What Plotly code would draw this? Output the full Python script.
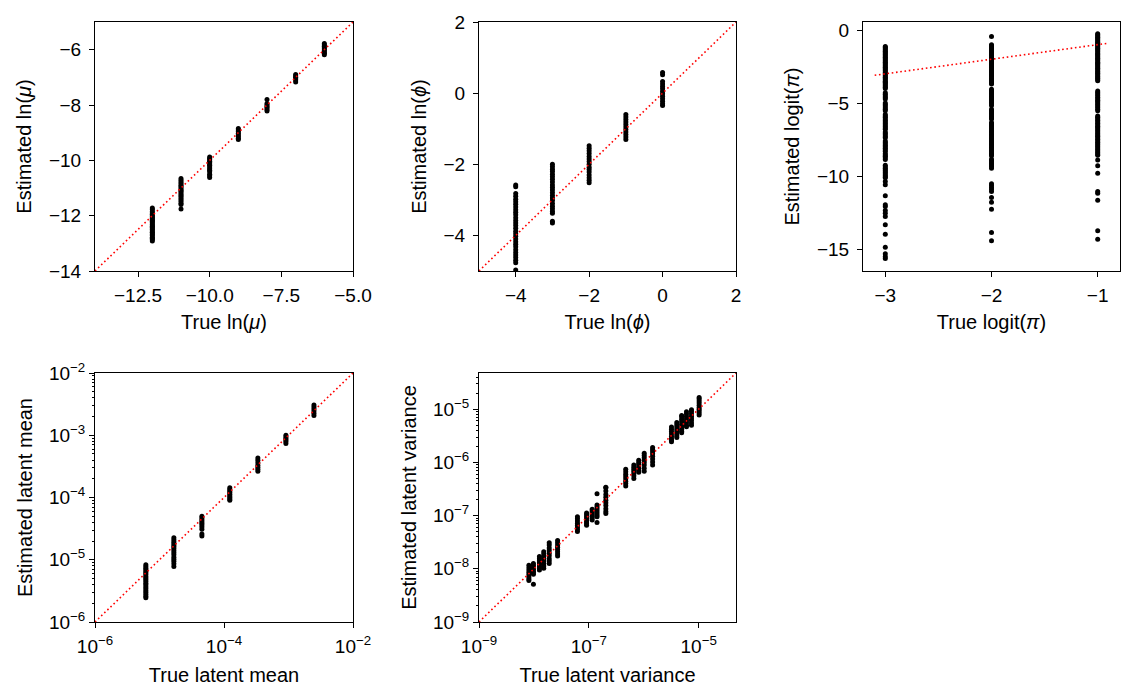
import plotly.graph_objects as go

# ---------------- data ----------------
# Panel 1: ln(mu)
p1_true = [-12, -11, -10, -9, -8, -7, -6]
p1_est = [
    [-11.72, -11.78, -11.85, -11.9, -11.95, -12.0, -12.04, -12.08, -12.12, -12.17, -12.2, -12.25, -12.3,
     -12.34, -12.38, -12.42, -12.47, -12.5, -12.55, -12.6, -12.63, -12.68, -12.72, -12.78, -12.82, -12.86, -12.92],
    [-10.66, -10.72, -10.78, -10.84, -10.9, -10.95, -11.0, -11.05, -11.1, -11.14, -11.2, -11.25, -11.3,
     -11.36, -11.42, -11.48, -11.55, -11.6, -11.76],
    [-9.88, -9.93, -9.98, -10.03, -10.08, -10.13, -10.18, -10.24, -10.3, -10.36, -10.41, -10.5, -10.56, -10.62],
    [-8.85, -8.9, -8.96, -9.02, -9.08, -9.14, -9.2, -9.25],
    [-7.8, -7.95, -8.0, -8.05, -8.1, -8.16, -8.22],
    [-6.9, -6.95, -7.0, -7.05, -7.1, -7.17],
    [-5.78, -5.83, -5.88, -5.93, -5.98, -6.03, -6.08, -6.13, -6.18],
]

# Panel 2: ln(phi)
p2_true = [-4, -3, -2, -1, 0]
p2_est = [
    [-2.58, -2.63, -2.82, -2.9, -2.98, -3.05, -3.12, -3.2, -3.28, -3.35, -3.42, -3.5, -3.58, -3.65, -3.72,
     -3.8, -3.88, -3.95, -4.02, -4.1, -4.18, -4.25, -4.32, -4.4, -4.48, -4.55, -4.62, -4.7, -4.77, -4.97],
    [-2.0, -2.07, -2.14, -2.2, -2.28, -2.35, -2.42, -2.5, -2.58, -2.65, -2.72, -2.8, -2.88, -2.95, -3.02,
     -3.1, -3.18, -3.25, -3.32, -3.38, -3.6, -3.65],
    [-1.48, -1.55, -1.62, -1.7, -1.78, -1.85, -1.92, -2.0, -2.08, -2.15, -2.22, -2.3, -2.38, -2.45, -2.52],
    [-0.6, -0.67, -0.74, -0.81, -0.88, -0.95, -1.02, -1.09, -1.16, -1.23, -1.3],
    [0.58, 0.52, 0.33, 0.26, 0.19, 0.12, 0.05, -0.02, -0.09, -0.16, -0.23, -0.3, -0.35],
]

# Panel 3: logit(pi)
p3_true = [-3, -2, -1]
p3_est = [
    [-1.12, -1.2, -1.28, -1.36, -1.45, -1.53, -1.62, -1.7, -1.78, -1.87, -1.95, -2.04, -2.12, -2.2, -2.3,
     -2.38, -2.46, -2.55, -2.64, -2.72, -2.8, -2.9, -2.98, -3.06, -3.15, -3.24, -3.32, -3.4, -3.5, -3.58,
     -3.66, -3.75, -3.84, -3.92, -4.0, -4.3, -4.4, -4.52, -4.62, -4.72, -5.0, -5.1, -5.2, -5.32, -5.42,
     -5.52, -5.78, -5.88, -5.98, -6.1, -6.2, -6.3, -6.4, -6.5, -6.6, -6.7, -6.8, -6.98, -7.08, -7.18, -7.3,
     -7.38, -7.6, -7.7, -7.8, -7.9, -8.0, -8.1, -8.2, -8.3, -8.46, -8.55, -8.65, -8.75, -8.86, -9.26, -9.36,
     -9.46, -9.56, -9.66, -9.76, -9.86, -9.96, -10.06, -10.12, -10.37, -10.6, -11.35, -11.97, -12.08,
     -12.36, -12.54, -12.77, -13.34, -13.98, -14.87, -15.32, -15.5, -15.64],
    [-0.45, -1.0, -1.08, -1.16, -1.25, -1.33, -1.42, -1.5, -1.58, -1.67, -1.75, -1.84, -1.92, -2.0, -2.1,
     -2.18, -2.26, -2.35, -2.44, -2.52, -2.6, -2.7, -2.78, -2.86, -2.95, -3.04, -3.12, -3.2, -3.3, -3.38,
     -3.46, -3.55, -3.62, -3.7, -4.06, -4.15, -4.25, -4.35, -4.45, -4.55, -4.65, -4.75, -4.85, -4.95,
     -5.05, -5.17, -5.42, -5.52, -5.62, -5.72, -5.82, -5.92, -6.02, -6.1, -6.33, -6.43, -6.53, -6.63,
     -6.73, -6.83, -6.93, -7.03, -7.13, -7.23, -7.33, -7.43, -7.53, -7.63, -7.73, -7.83, -7.93, -8.03,
     -8.13, -8.23, -8.33, -8.43, -8.53, -8.6, -8.84, -8.94, -9.04, -9.14, -9.24, -9.34, -9.46, -10.53,
     -10.65, -10.78, -10.9, -11.05, -11.47, -11.8, -12.27, -13.86, -14.43],
    [-0.25, -0.33, -0.41, -0.5, -0.58, -0.66, -0.75, -0.83, -0.92, -1.0, -1.08, -1.17, -1.25, -1.34,
     -1.42, -1.5, -1.6, -1.68, -1.76, -1.85, -1.94, -2.02, -2.1, -2.2, -2.28, -2.36, -2.45, -2.53, -2.62,
     -2.7, -2.8, -2.88, -2.96, -3.05, -3.14, -3.22, -3.3, -3.4, -3.48, -4.18, -4.28, -4.38, -4.48, -4.6,
     -4.7, -4.8, -4.9, -5.0, -5.1, -5.2, -5.3, -5.42, -5.52, -5.88, -5.98, -6.08, -6.18, -6.28, -6.38,
     -6.48, -6.58, -6.68, -6.78, -6.88, -6.98, -7.08, -7.18, -7.28, -7.38, -7.48, -7.58, -7.68, -7.78,
     -7.88, -7.98, -8.08, -8.18, -8.28, -8.38, -8.48, -8.58, -8.9, -9.3, -9.8, -11.06, -11.17, -11.65,
     -13.75, -14.32],
]

# Panel 4: latent mean
p4_true = [6.14e-6, 1.67e-5, 4.54e-5, 1.23e-4, 3.35e-4, 9.12e-4, 2.48e-3]
p4_est = [
    [8.3e-6, 7.8e-6, 7.3e-6, 6.9e-6, 6.5e-6, 6.1e-6, 5.8e-6, 5.4e-6, 5.1e-6, 4.8e-6, 4.5e-6, 4.2e-6,
     3.95e-6, 3.7e-6, 3.45e-6, 3.2e-6, 3.0e-6, 2.8e-6, 2.6e-6, 2.45e-6],
    [2.25e-5, 2.1e-5, 1.95e-5, 1.82e-5, 1.7e-5, 1.6e-5, 1.5e-5, 1.4e-5, 1.3e-5, 1.2e-5, 1.1e-5, 1.02e-5,
     9.5e-6, 8.6e-6, 7.8e-6],
    [5.0e-5, 4.7e-5, 4.4e-5, 4.1e-5, 3.85e-5, 3.6e-5, 3.35e-5, 3.1e-5, 2.6e-5, 2.4e-5],
    [1.43e-4, 1.35e-4, 1.27e-4, 1.2e-4, 1.13e-4, 1.06e-4, 1.0e-4, 9.5e-5, 9.0e-5],
    [4.3e-4, 3.95e-4, 3.6e-4, 3.3e-4, 3.05e-4, 2.85e-4, 2.65e-4],
    [1.0e-3, 9.4e-4, 8.9e-4, 8.4e-4, 7.9e-4, 7.4e-4],
    [3.05e-3, 2.85e-3, 2.65e-3, 2.45e-3, 2.25e-3, 2.07e-3],
]

# Panel 5: latent variance
p5_true = [8.1e-9, 9.8e-9, 1.26e-8, 1.51e-8, 1.9e-8, 2.7e-8, 6.2e-8, 9.1e-8, 1.15e-7, 1.41e-7, 2.04e-7,
           4.7e-7, 6.6e-7, 8.1e-7, 1.02e-6, 1.45e-6, 3.2e-6, 4.0e-6, 4.9e-6, 6.0e-6, 7.4e-6, 1.02e-5]
p5_est = [
    [1.17e-8, 1.05e-8, 9.5e-9, 8.6e-9, 7.8e-9, 7.0e-9, 6.4e-9, 6.0e-9],
    [1.26e-8, 1.15e-8, 1.06e-8, 9.8e-9, 9.0e-9, 8.4e-9, 7.9e-9, 5.1e-9],
    [1.7e-8, 1.55e-8, 1.42e-8, 1.3e-8, 1.2e-8, 1.1e-8, 1.02e-8, 9.5e-9],
    [2.1e-8, 1.9e-8, 1.7e-8, 1.55e-8, 1.4e-8, 1.26e-8, 1.13e-8, 1.02e-8],
    [3.1e-8, 2.8e-8, 2.45e-8, 2.2e-8, 1.95e-8, 1.75e-8, 1.55e-8, 1.4e-8, 1.26e-8],
    [3.4e-8, 3.1e-8, 2.8e-8, 2.55e-8, 2.3e-8, 2.1e-8, 1.9e-8, 1.74e-8],
    [9.5e-8, 8.7e-8, 7.9e-8, 7.2e-8, 6.6e-8, 6.0e-8, 5.5e-8, 5.0e-8],
    [1.12e-7, 1.04e-7, 9.6e-8, 8.9e-8, 8.2e-8, 7.6e-8, 7.0e-8, 6.6e-8],
    [1.32e-7, 1.22e-7, 1.13e-7, 1.05e-7, 9.7e-8, 9.0e-8, 8.3e-8],
    [1.58e-7, 1.45e-7, 1.33e-7, 1.22e-7, 1.12e-7, 1.03e-7, 9.5e-8, 2.57e-7, 7.4e-8],
    [3.4e-7, 3.35e-7, 2.9e-7, 2.5e-7, 2.2e-7, 1.95e-7, 1.75e-7, 1.55e-7, 1.35e-7, 1.2e-7, 1.1e-7],
    [7.4e-7, 6.7e-7, 6.0e-7, 5.4e-7, 4.9e-7, 4.4e-7, 4.0e-7, 3.6e-7],
    [8.9e-7, 8.1e-7, 7.4e-7, 6.8e-7, 6.2e-7, 5.6e-7, 5.0e-7],
    [1.1e-6, 1.0e-6, 9.2e-7, 8.4e-7, 7.7e-7, 7.1e-7, 6.5e-7],
    [1.48e-6, 1.35e-6, 1.22e-6, 1.1e-6, 9.9e-7, 8.9e-7, 7.8e-7, 6.8e-7],
    [1.9e-6, 1.75e-6, 1.6e-6, 1.45e-6, 1.3e-6, 1.16e-6, 1.02e-6, 8.9e-7],
    [4.6e-6, 4.2e-6, 3.8e-6, 3.45e-6, 3.1e-6, 2.8e-6, 2.6e-6, 2.45e-6],
    [5.6e-6, 5.1e-6, 4.6e-6, 4.2e-6, 3.8e-6, 3.45e-6, 3.15e-6, 2.95e-6],
    [7.6e-6, 7.2e-6, 6.5e-6, 5.8e-6, 5.2e-6, 4.7e-6, 4.2e-6, 3.85e-6, 3.6e-6],
    [8.9e-6, 8.1e-6, 7.3e-6, 6.6e-6, 6.0e-6, 5.5e-6, 5.0e-6, 4.7e-6],
    [9.8e-6, 9.0e-6, 8.2e-6, 7.4e-6, 6.7e-6, 6.1e-6, 5.5e-6, 5.0e-6],
    [1.66e-5, 1.55e-5, 1.42e-5, 1.3e-5, 1.18e-5, 1.08e-5, 1.0e-5, 9.2e-6, 8.5e-6, 7.8e-6],
]

# identity-line end points per panel
p1_line = [-14, -5]
p2_line = [-5, 2]
p3_line = [-3.1, -0.9]
p4_line = [1e-6, 1e-2]
p5_line = [1e-9, 4.8e-5]

# tick values / labels
p1_xt, p1_xl = [-12.5, -10, -7.5, -5], ["−12.5", "−10.0", "−7.5", "−5.0"]
p1_yt, p1_yl = [-14, -12, -10, -8, -6], ["−14", "−12", "−10", "−8", "−6"]
p2_t, p2_l = [-4, -2, 0, 2], ["−4", "−2", "0", "2"]
p3_xt, p3_xl = [-3, -2, -1], ["−3", "−2", "−1"]
p3_yt, p3_yl = [-15, -10, -5, 0], ["−15", "−10", "−5", "0"]
p4_xt, p4_xl = [1e-6, 1e-4, 1e-2], ["10<sup>−6</sup>", "10<sup>−4</sup>", "10<sup>−2</sup>"]
p4_yt = [1e-6, 1e-5, 1e-4, 1e-3, 1e-2]
p4_yl = ["10<sup>−6</sup>", "10<sup>−5</sup>", "10<sup>−4</sup>", "10<sup>−3</sup>", "10<sup>−2</sup>"]
p5_xt, p5_xl = [1e-9, 1e-7, 1e-5], ["10<sup>−9</sup>", "10<sup>−7</sup>", "10<sup>−5</sup>"]
p5_yt = [1e-9, 1e-8, 1e-7, 1e-6, 1e-5]
p5_yl = ["10<sup>−9</sup>", "10<sup>−8</sup>", "10<sup>−7</sup>", "10<sup>−6</sup>", "10<sup>−5</sup>"]

# ---------------- figure ----------------
W, H = 1134, 700
FONT = "Liberation Sans, Arial, sans-serif"
TICK_SIZE = 19
TITLE_SIZE = 20
fig = go.Figure()


def flatten(true_vals, est_lists):
    xs, ys = [], []
    for t, col in zip(true_vals, est_lists):
        for v in col:
            xs.append(t)
            ys.append(v)
    return xs, ys


panels = [
    (p1_true, p1_est, p1_line, "x", "y"),
    (p2_true, p2_est, p2_line, "x2", "y2"),
    (p3_true, p3_est, p3_line, "x3", "y3"),
    (p4_true, p4_est, p4_line, "x4", "y4"),
    (p5_true, p5_est, p5_line, "x5", "y5"),
]
for tv, ev, ln, xa, ya in panels:
    xs, ys = flatten(tv, ev)
    fig.add_trace(go.Scatter(x=xs, y=ys, mode="markers", xaxis=xa, yaxis=ya,
                             marker=dict(size=5, color="black", line=dict(width=0)),
                             showlegend=False, hoverinfo="skip"))
    fig.add_trace(go.Scatter(x=ln, y=ln, mode="lines", xaxis=xa, yaxis=ya,
                             line=dict(color="red", width=1.6, dash="1.6px,2.7px"),
                             showlegend=False, hoverinfo="skip"))


def dom_x(l, r):
    return [l / W, r / W]


def dom_y(t, b):
    return [1 - b / H, 1 - t / H]


base = dict(showline=True, mirror=True, linecolor="black", linewidth=1, ticks="outside",
            ticklen=5, tickwidth=1, tickcolor="black", showgrid=False, zeroline=False,
            tickfont=dict(family=FONT, size=TICK_SIZE, color="black"), automargin=False,
            tickmode="array")


def axis(domain, rng, tv, tl, title, anchor, standoff, lab_off, typ="linear", minor=None):
    d = dict(base, domain=domain, range=rng, tickvals=tv, ticktext=tl, anchor=anchor, type=typ,
             ticklabelstandoff=lab_off,
             title=dict(text=title, font=dict(family=FONT, size=TITLE_SIZE, color="black"),
                        standoff=standoff))
    if minor is not None:
        d["minor"] = minor
    return d


def log_minor(lo, hi):
    vals = []
    for e in range(lo, hi + 1):
        for m in range(2, 10):
            vals.append(m * 10.0 ** e)
    return dict(tickmode="array", tickvals=vals, ticks="outside", ticklen=2.5, tickwidth=0.8,
                tickcolor="black", showgrid=False)


top_row = dom_y(22, 271)
bot_row = dom_y(373, 622)
c1 = dom_x(95, 353)
c2 = dom_x(479, 736)
c3 = dom_x(863, 1120)

fig.update_layout(
    width=W, height=H, margin=dict(l=0, r=0, t=0, b=0),
    paper_bgcolor="white", plot_bgcolor="white",
    font=dict(family=FONT, color="black"),
    xaxis=axis(c1, [-14, -5], p1_xt, p1_xl, "True ln(<i>μ</i>)", "y", 10, 2),
    yaxis=axis(top_row, [-14, -5], p1_yt, p1_yl, "Estimated ln(<i>μ</i>)", "x", 11, 4),
    xaxis2=axis(c2, [-5, 2], p2_t, p2_l, "True ln(<i>ϕ</i>)", "y2", 10, 2),
    yaxis2=axis(top_row, [-5, 2], p2_t, p2_l, "Estimated ln(<i>ϕ</i>)", "x2", 11, 4),
    xaxis3=axis(c3, [-3.21, -0.79], p3_xt, p3_xl, "True logit(<i>π</i>)", "y3", 10, 2),
    yaxis3=axis(top_row, [-16.5, 0.55], p3_yt, p3_yl, "Estimated logit(<i>π</i>)", "x3", 11, 4),
    xaxis4=axis(c1, [-6, -2], p4_xt, p4_xl, "True latent mean", "y4", 12, 2, "log"),
    yaxis4=axis(bot_row, [-6, -2], p4_yt, p4_yl, "Estimated latent mean", "x4", 10, 0, "log",
                log_minor(-6, -3)),
    xaxis5=axis(c2, [-9, -4.32], p5_xt, p5_xl, "True latent variance", "y5", 12, 2, "log"),
    yaxis5=axis(bot_row, [-9, -4.32], p5_yt, p5_yl, "Estimated latent variance", "x5", 10, 0, "log",
                log_minor(-9, -5)),
)

fig.write_html("out.html")
